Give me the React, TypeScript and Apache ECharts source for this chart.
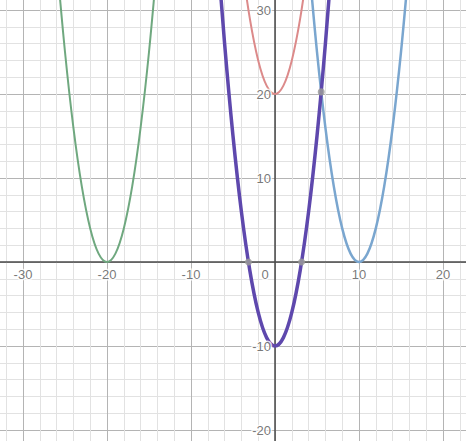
import React, { useEffect, useRef } from "react";
import * as echarts from "echarts";

// Points
const greenCurve: number[][] = [
  [-26, 36], [-25, 25], [-24, 16], [-23, 9], [-22, 4], [-21, 1], [-20, 0],
  [-19, 1], [-18, 4], [-17, 9], [-16, 16], [-15, 25], [-14, 36],
];
const redCurve: number[][] = [
  [-4, 36], [-3, 29], [-2, 24], [-1, 21], [0, 20], [1, 21], [2, 24], [3, 29], [4, 36],
];
const blueCurve: number[][] = [
  [4, 36], [5, 25], [6, 16], [7, 9], [8, 4], [9, 1], [10, 0],
  [11, 1], [12, 4], [13, 9], [14, 16], [15, 25], [16, 36],
];
const purpleCurve: number[][] = [
  [-7, 39], [-6, 26], [-5, 15], [-4, 6], [-3, -1], [-2, -6], [-1, -9], [0, -10],
  [1, -9], [2, -6], [3, -1], [4, 6], [5, 15], [6, 26], [7, 39],
];
const markedPoints: number[][] = [
  [-3.16, 0], [3.16, 0], [5.5, 20.25],
];
const xLabels = [-30, -20, -10, 0, 10, 20];
const yLabels = [-20, -10, 10, 20, 30];

export default function App() {
  const ref = useRef<HTMLDivElement>(null);
  useEffect(() => {
    if (!ref.current) return;
    const chart = echarts.init(ref.current, null, { renderer: "svg" });
    const labelStyle = {
      color: "#555",
      fontSize: 13,
      fontFamily: "Liberation Sans, Arial, sans-serif",
      textBorderColor: "#fff",
      textBorderWidth: 3,
    };
    const curve = (data: number[][], color: string, width: number, z: number) => ({
      type: "line",
      data,
      smooth: 0.35,
      showSymbol: false,
      symbol: "none",
      clip: true,
      z,
      lineStyle: { color, width },
    });
    const axisCommon = {
      type: "value",
      interval: 10,
      axisLine: { show: true, onZero: true, lineStyle: { color: "#4a4a4a", width: 1.5 } },
      axisTick: { show: false },
      axisLabel: { show: false },
      minorTick: { show: false, splitNumber: 5 },
      splitLine: { show: true, lineStyle: { color: "#b4b4b4", width: 1 } },
      minorSplitLine: { show: true, lineStyle: { color: "#e2e2e2", width: 1 } },
      z: 3,
    };
    chart.setOption({
      animation: false,
      backgroundColor: "#fff",
      grid: {
        left: 0,
        top: 0,
        right: 0,
        bottom: 0,
        containLabel: false,
        outerBoundsMode: "none",
      },
      xAxis: { ...axisCommon, min: -40, max: 30 },
      yAxis: { ...axisCommon, min: -30, max: 40 },
      series: [
        curve(greenCurve, "#6fa87f", 2, 4),
        curve(redCurve, "#dc8a8a", 2, 4),
        curve(blueCurve, "#7aa6cf", 2.5, 4),
        curve(purpleCurve, "#5e48ad", 3.5, 5),
        {
          type: "scatter",
          data: markedPoints,
          symbol: "circle",
          symbolSize: 7,
          itemStyle: { color: "#9a9a9a", opacity: 0.85 },
          z: 6,
        },
        {
          type: "scatter",
          data: xLabels.map((v) => [v, 0]),
          symbolSize: 0,
          silent: true,
          z: 7,
          label: {
            show: true,
            ...labelStyle,
            position: "bottom",
            distance: 6,
            formatter: (p: any) => {
              const v = p.value[0];
              return v === 0 ? "{z|0}" : String(v);
            },
            rich: { z: { ...labelStyle, padding: [0, 20, 0, 0] } },
          },
        },
        {
          type: "scatter",
          data: yLabels.map((v) => [0, v]),
          symbolSize: 0,
          silent: true,
          z: 7,
          label: {
            show: true,
            ...labelStyle,
            position: "left",
            distance: 4,
            formatter: (p: any) => String(p.value[1]),
          },
        },
      ],
    });
    return () => chart.dispose();
  }, []);
  return (
    <div
      style={{
        position: "absolute",
        left: 0,
        top: 0,
        width: 466,
        height: 441,
        overflow: "hidden",
        background: "#fff",
      }}
    >
      <div
        ref={ref}
        style={{ position: "absolute", left: -61, top: -74, width: 588, height: 588 }}
      />
    </div>
  );
}
